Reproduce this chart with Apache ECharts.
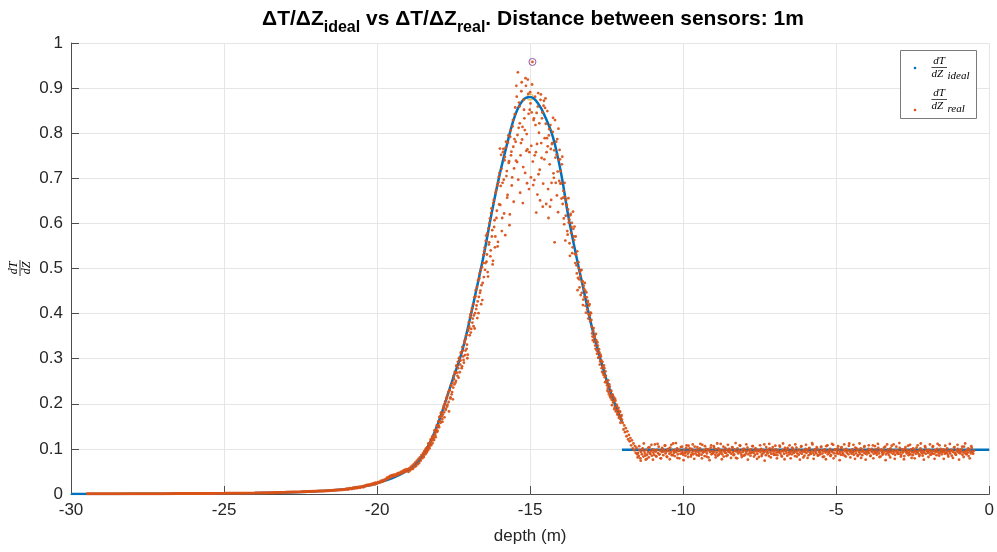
<!DOCTYPE html>
<html>
<head>
<meta charset="utf-8">
<script src="https://cdn.jsdelivr.net/npm/echarts@6/dist/echarts.min.js"></script>
<style>html,body{margin:0;padding:0;background:#fff}#c{width:997px;height:552px}</style>
</head>
<body>
<div id="c"></div>
<script>
// ---- data ----
var xTicks = [-30, -25, -20, -15, -10, -5, 0];
var yTicks = [0, 0.1, 0.2, 0.3, 0.4, 0.5, 0.6, 0.7, 0.8, 0.9, 1];

// ideal dT/dZ (blue line)
var idealX = [-30,-29,-28,-27,-26,-25,-24,-23,-22.5,-22,-21.5,-21,-20.5,-20,-19.5,-19,-18.75,-18.5,-18.25,-18,-17.75,-17.5,-17.25,-17,-16.75,-16.5,-16.25,-16,-15.75,-15.5,-15.25,-15,-14.75,-14.5,-14.25,-14,-13.75,-13.5,-13.25,-13,-12.75,-12.5,-12.25,-12];
var idealY = [0,0.0002,0.0003,0.0005,0.0008,0.0012,0.002,0.0035,0.0045,0.006,0.0078,0.011,0.016,0.024,0.035,0.052,0.065,0.086,0.117,0.158,0.208,0.26,0.31,0.378,0.455,0.535,0.625,0.707,0.777,0.838,0.872,0.880,0.867,0.835,0.79,0.715,0.615,0.53,0.452,0.375,0.31,0.252,0.203,0.16];
var idealFlatX = [-12, 0];
var idealFlatY = [0.098, 0.098];
var idealMax = [-15, 0.880];

// real dT/dZ: smooth tail (dense samples, appear as a line)
var tailX = [-29.5,-29,-28,-27,-26,-25,-24,-23,-22.5,-22,-21.5,-21];
var tailY = [0.0003,0.0004,0.0005,0.0007,0.001,0.0014,0.0022,0.0037,0.0048,0.0062,0.0078,0.0105];

// real dT/dZ samples, depth grid from -21 m, every 0.025 m
var realStart = -21;
var realStep = 0.025;
var realPeakY = [
.011,.012,.010,.012,.011,.013,.012,.011,.013,.014,.012,.014,.013,.015,.013,.014,.016,.015,.014,.016,
.016,.017,.015,.018,.017,.019,.018,.020,.019,.021,.019,.021,.022,.020,.023,.022,.024,.021,.025,.023,
.024,.026,.025,.027,.026,.029,.027,.030,.028,.031,.030,.033,.032,.036,.034,.038,.036,.040,.037,.041,
.042,.039,.043,.040,.041,.044,.042,.046,.043,.047,.045,.049,.046,.050,.048,.053,.049,.054,.051,.055,
.054,.049,.057,.052,.060,.055,.063,.056,.066,.060,.070,.062,.074,.066,.078,.069,.081,.074,.086,.079,
.090,.082,.095,.088,.101,.093,.098,.112,.104,.108,.121,.111,.127,.119,.124,.141,.130,.137,.152,.140,
.161,.148,.172,.158,.181,.166,.176,.195,.170,.205,.189,.214,.198,.226,.183,.231,.214,.240,.226,.210,
.262,.243,.268,.251,.285,.262,.279,.301,.270,.296,.312,.283,.318,.297,.335,.308,.344,.322,.301,.362,
.381,.352,.398,.366,.412,.389,.372,.436,.401,.452,.418,.390,.474,.437,.489,.451,.421,.503,.468,.530,
.538,.497,.561,.515,.578,.482,.553,.601,.527,.623,.571,.509,.645,.592,.547,.668,.612,.684,.559,.703,
.712,.641,.752,.583,.690,.765,.622,.747,.768,.705,.657,.779,.734,.596,.792,.751,.684,.815,.770,.722,
.842,.781,.905,.736,.935,.812,.859,.668,.778,.913,.814,.725,.852,.807,.922,.761,.689,.919,.843,.758,
.891,.702,.846,.958,.685,.833,.751,.818,.624,.776,.859,.709,.822,.651,.886,.745,.846,.688,.872,.789,
.877,.643,.789,.771,.612,.809,.637,.765,.690,.778,.834,.701,.558,.746,.781,.662,.715,.810,.694,.742,
.716,.655,.748,.657,.611,.690,.562,.652,.641,.575,.656,.609,.528,.621,.592,.534,.626,.571,.593,.512,
.531,.489,.452,.514,.476,.493,.441,.497,.470,.419,.462,.437,.451,.402,.436,.425,.389,.418,.396,.402,
.386,.356,.341,.368,.347,.329,.355,.318,.336,.302,.321,.287,.309,.296,.271,.283,.264,.279,.248,.262,
.247,.229,.252,.221,.238,.214,.229,.197,.219,.206,.188,.211,.183,.198,.176,.187,.169,.181,.158,.172,
.165
];
var realFlatY = [
.158,.143,.152,.137,.146,.128,.139,.121,.131,.117,.124,.108,.119,.101,.112,.097,.106,.091,.102,.088,
.091,.084,.097,.079,.093,.088,.101,.083,.095,.090,.076,.098,.087,.093,.081,.104,.089,.095,.085,.099,
.092,.087,.110,.094,.083,.098,.091,.105,.088,.096,.079,.093,.100,.086,.097,.108,.090,.094,.082,.099,
.095,.089,.103,.092,.086,.097,.112,.091,.084,.098,.093,.101,.088,.095,.079,.096,.104,.090,.093,.087,
.098,.091,.085,.102,.094,.089,.107,.093,.097,.083,.100,.092,.088,.096,.105,.090,.094,.086,.099,.093,
.089,.101,.095,.087,.109,.092,.097,.084,.094,.100,.090,.096,.081,.098,.093,.103,.088,.095,.091,.106,
.094,.087,.099,.092,.085,.101,.096,.090,.111,.093,.088,.097,.083,.095,.102,.091,.098,.086,.094,.100,
.092,.097,.089,.104,.093,.086,.099,.095,.080,.094,.101,.090,.096,.108,.092,.087,.098,.093,.085,.100,
.096,.090,.094,.103,.088,.097,.092,.085,.099,.093,.106,.091,.095,.087,.100,.094,.089,.098,.082,.096,
.093,.100,.088,.095,.091,.110,.094,.086,.098,.092,.097,.084,.101,.093,.089,.096,.104,.090,.095,.087,
.099,.092,.086,.097,.093,.107,.090,.095,.083,.098,.094,.089,.102,.096,.091,.085,.099,.093,.108,.092,
.095,.088,.100,.093,.097,.084,.094,.103,.090,.096,.087,.098,.092,.105,.089,.095,.081,.097,.093,.100,
.091,.098,.094,.086,.102,.093,.089,.096,.110,.092,.087,.099,.094,.090,.101,.085,.096,.093,.088,.104,
.097,.090,.095,.083,.099,.092,.106,.094,.088,.096,.091,.100,.086,.095,.093,.109,.090,.097,.084,.098,
.093,.101,.089,.096,.092,.087,.104,.094,.090,.098,.085,.095,.100,.091,.097,.088,.112,.093,.096,.089,
.099,.092,.087,.095,.103,.090,.096,.084,.098,.093,.089,.101,.094,.086,.097,.092,.106,.090,.095,.088,
.094,.100,.091,.097,.085,.096,.093,.108,.089,.095,.092,.099,.087,.094,.102,.090,.096,.083,.098,.093,
.090,.097,.093,.105,.088,.095,.091,.099,.086,.094,.101,.092,.096,.089,.110,.093,.087,.097,.094,.091,
.096,.089,.102,.093,.087,.098,.092,.095,.084,.100,.094,.090,.097,.107,.091,.095,.088,.099,.093,.086,
.092,.098,.095,.089,.103,.094,.090,.096,.087,.101,.093,.097,.085,.095,.092,.106,.089,.097,.094,.091,
.098,.093,.087,.096,.091,.104,.095,.089,.097,.093,.086,.100,.094,.090,.108,.092,.096,.088,.095,.099,
.093,.089,.097,.092,.101,.087,.095,.094,.090,.098,.085,.096,.093,.103,.091,.088,.097,.094,.100,.092,
.096,.090,.094,.099,.087,.093,.105,.091,.095,.088,.097,.092,.084,.098,.094,.090,.102,.093,.089,.096
];
// second interleaved set of real samples in the peak, from -18.4875 m every 0.025 m
var real2Start = -18.4875;
var real2Y = [
.084,.094,.089,.099,.092,.104,.097,.110,.101,.116,.108,.121,.113,.129,.120,.134,.126,.143,.138,.149,
.152,.170,.161,.179,.172,.160,.190,.181,.199,.186,.211,.194,.220,.204,.229,.212,.241,.221,.247,.236,
.255,.271,.247,.284,.269,.293,.258,.302,.287,.314,.279,.326,.305,.291,.340,.318,.352,.331,.309,.367,
.371,.392,.358,.405,.380,.421,.396,.367,.438,.410,.459,.427,.401,.478,.446,.497,.463,.430,.512,.481,
.546,.512,.573,.531,.492,.589,.558,.611,.540,.633,.585,.517,.652,.607,.571,.674,.628,.549,.691,.642,
.766,.683,.721,.612,.758,.697,.740,.574,.781,.716,.663,.795,.738,.620,.806,.759,.702,.829,.648,.787,
.857,.739,.881,.796,.697,.868,.822,.751,.893,.786,.645,.874,.833,.712,.905,.798,.764,.887,.676,.852,
.866,.772,.908,.737,.829,.696,.881,.758,.845,.664,.889,.801,.719,.874,.778,.833,.637,.861,.742,.856,
.821,.758,.849,.676,.795,.731,.818,.652,.776,.803,.711,.762,.829,.690,.752,.787,.625,.741,.763,.688,
.689,.731,.643,.672,.598,.659,.617,.640,.583,.631,.602,.556,.618,.579,.601,.547,.588,.563,.532,.571,
.507,.538,.479,.501,.458,.483,.496,.446,.472,.431,.455,.468,.417,.447,.409,.428,.398,.421,.383,.401,
.371,.349,.362,.337,.351,.322,.341,.311,.329,.303,.314,.294,.305,.279,.293,.268,.285,.259,.272,.251,
.241,.234,.226,.243,.217,.228,.209,.221,.203,.214,.192,.207,.186,.195,.179,.191,.172,.183,.166,.175
];
// third interleaved set of real samples on the plateau, from -11.4875 m every 0.05 m
var real3Start = -11.4875;
var real3Step = 0.05;
var real3Y = [
.081,.106,.074,.099,.112,.085,.078,.103,.091,.109,.076,.097,.084,.111,.088,.079,.102,.094,.107,.083,
.100,.077,.109,.086,.095,.113,.080,.098,.089,.105,.075,.092,.108,.082,.101,.087,.110,.078,.096,.104,
.085,.111,.079,.093,.106,.083,.099,.075,.108,.090,.102,.081,.112,.087,.097,.077,.105,.092,.084,.109,
.096,.080,.103,.088,.113,.079,.094,.107,.082,.100,.086,.110,.076,.098,.091,.106,.083,.101,.078,.095,
.108,.084,.097,.074,.104,.090,.111,.081,.099,.087,.107,.079,.093,.105,.085,.112,.077,.096,.102,.088,
.079,.103,.091,.110,.083,.098,.076,.106,.094,.085,.109,.080,.101,.089,.113,.078,.097,.104,.086,.092,
.105,.082,.096,.077,.108,.093,.084,.111,.079,.099,.090,.106,.075,.102,.087,.110,.083,.095,.107,.081,
.094,.109,.078,.101,.086,.112,.080,.097,.104,.076,.093,.108,.084,.100,.079,.106,.091,.111,.082,.098,
.087,.103,.075,.110,.092,.081,.107,.096,.078,.105,.089,.113,.083,.099,.077,.104,.093,.086,.109,.080,
.101,.079,.094,.108,.084,.112,.090,.076,.103,.097,.082,.110,.088,.106,.078,.095,.111,.085,.100,.093,
.078,.107,.091,.083,.111,.096,.080,.104,.087,.109,.076,.098,.105,.082,.112,.089,.101,.079,.106,.094
];
var realMax = [-14.925, 0.958];

// ---- build series data ----
function zip(xs, ys) { return xs.map(function (x, i) { return [x, ys[i]]; }); }
function grid(start, step, ys) { return ys.map(function (y, i) { return [+(start + i * step).toFixed(4), y]; }); }
var realPts = grid(realStart, realStep, realPeakY.concat(realFlatY))
  .concat(grid(real2Start, realStep, real2Y))
  .concat(grid(real3Start, real3Step, real3Y));

var BLUE = '#0072BD', ORANGE = '#D95319', AXIS = '#4d4d4d', TXT = '#262626';
var FONT = '"Liberation Sans", Arial, Helvetica, sans-serif';
var SERIF = 'italic 11px "Liberation Serif", "DejaVu Serif", serif';
var SERIF_Y = 'italic 12px "Liberation Serif", "DejaVu Serif", serif';

var chart = echarts.init(document.getElementById('c'), null, { renderer: 'canvas' });
chart.setOption({
  animation: false,
  backgroundColor: '#fff',
  title: {
    text: '{a|ΔT/ΔZ}{b|ideal}{a| vs ΔT/ΔZ}{b|real}{a|. Distance between sensors: 1m}',
    left: 528, top: 4, textAlign: 'center',
    textStyle: {
      rich: {
        a: { fontSize: 21, fontWeight: 'bold', fontFamily: FONT, color: '#000', verticalAlign: 'top', lineHeight: 22 },
        b: { fontSize: 16, fontWeight: 'bold', fontFamily: FONT, color: '#000', verticalAlign: 'top', lineHeight: 17, padding: [11, 0, 0, 0] }
      }
    }
  },
  grid: { left: 71, right: 3, top: 43, bottom: 58, containLabel: false },
  xAxis: {
    type: 'value', min: -30, max: 0, interval: 5,
    axisLine: { show: true, onZero: false, lineStyle: { color: AXIS, width: 1 } },
    axisTick: { show: true, inside: true, length: 8, lineStyle: { color: AXIS } },
    axisLabel: { fontSize: 17, color: TXT, fontFamily: FONT, margin: 8,
      formatter: function (v) { return xTicks.indexOf(v) >= 0 ? String(v) : ''; } },
    splitLine: { show: true, lineStyle: { color: '#e6e6e6', width: 1 } },
    name: 'depth (m)', nameLocation: 'middle', nameGap: 34,
    nameTextStyle: { fontSize: 17, color: TXT, fontFamily: FONT }
  },
  yAxis: {
    type: 'value', min: 0, max: 1, interval: 0.1,
    axisLine: { show: true, onZero: false, lineStyle: { color: AXIS, width: 1 } },
    axisTick: { show: true, inside: true, length: 8, lineStyle: { color: AXIS } },
    axisLabel: { fontSize: 17, color: TXT, fontFamily: FONT, margin: 8,
      formatter: function (v) { var r = Math.round(v * 10) / 10; return yTicks.indexOf(r) >= 0 ? String(r) : ''; } },
    splitLine: { show: true, lineStyle: { color: '#e6e6e6', width: 1 } }
  },
  series: [
    { type: 'scatter', data: [idealMax], symbol: 'circle', symbolSize: 6, z: 1,
      itemStyle: { color: 'rgba(0,0,0,0)', borderColor: '#EDB120', borderWidth: 1.2 } },
    { type: 'line', data: zip(idealX, idealY), smooth: 0.4, showSymbol: false, z: 2,
      lineStyle: { color: BLUE, width: 2.5 } },
    { type: 'line', data: zip(idealFlatX, idealFlatY), showSymbol: false, z: 2,
      lineStyle: { color: BLUE, width: 2.5 } },
    { type: 'line', data: zip(tailX, tailY), smooth: 0.3, showSymbol: false, z: 3,
      lineStyle: { color: ORANGE, width: 3 } },
    { type: 'scatter', data: realPts, symbol: 'circle', symbolSize: 2.8, z: 3, large: false,
      itemStyle: { color: ORANGE, opacity: 0.95 } },
    { type: 'scatter', data: [realMax], symbol: 'circle', symbolSize: 7, z: 4,
      itemStyle: { color: 'rgba(0,0,0,0)', borderColor: '#7E2F8E', borderWidth: 1 } }
  ],
  graphic: [
    // y-axis label: dT/dZ fraction, rotated
    { type: 'group', x: 20, y: 268, rotation: Math.PI / 2, children: [
      { type: 'text', x: 0, y: -6, style: { text: 'dT', font: SERIF_Y, fill: '#000', align: 'center', verticalAlign: 'middle' } },
      { type: 'line', shape: { x1: -8, y1: 0, x2: 8, y2: 0 }, style: { stroke: '#000', lineWidth: 0.8 } },
      { type: 'text', x: 0, y: 7, style: { text: 'dZ', font: SERIF_Y, fill: '#000', align: 'center', verticalAlign: 'middle' } }
    ] },
    // legend box
    { type: 'rect', shape: { x: 900.5, y: 50.5, width: 76, height: 68 }, style: { fill: '#fff', stroke: '#7a7a7a', lineWidth: 1 }, z: 100 },
    { type: 'circle', shape: { cx: 915, cy: 68, r: 1.3 }, style: { fill: BLUE }, z: 101 },
    { type: 'text', x: 939, y: 61, style: { text: 'dT', font: SERIF, fill: '#000', align: 'center', verticalAlign: 'middle' }, z: 101 },
    { type: 'line', shape: { x1: 931.5, y1: 67.5, x2: 947, y2: 67.5 }, style: { stroke: '#000', lineWidth: 0.7 }, z: 101 },
    { type: 'text', x: 931.5, y: 74.5, style: { text: 'dZ', font: SERIF, fill: '#000', align: 'left', verticalAlign: 'middle' }, z: 101 },
    { type: 'text', x: 947.5, y: 76.5, style: { text: 'ideal', font: SERIF, fill: '#000', align: 'left', verticalAlign: 'middle' }, z: 101 },
    { type: 'circle', shape: { cx: 915, cy: 110, r: 1.3 }, style: { fill: ORANGE }, z: 101 },
    { type: 'text', x: 939, y: 93, style: { text: 'dT', font: SERIF, fill: '#000', align: 'center', verticalAlign: 'middle' }, z: 101 },
    { type: 'line', shape: { x1: 931.5, y1: 99.5, x2: 947, y2: 99.5 }, style: { stroke: '#000', lineWidth: 0.7 }, z: 101 },
    { type: 'text', x: 931.5, y: 106.5, style: { text: 'dZ', font: SERIF, fill: '#000', align: 'left', verticalAlign: 'middle' }, z: 101 },
    { type: 'text', x: 947.5, y: 109, style: { text: 'real', font: SERIF, fill: '#000', align: 'left', verticalAlign: 'middle' }, z: 101 }
  ]
});
</script>
</body>
</html>
